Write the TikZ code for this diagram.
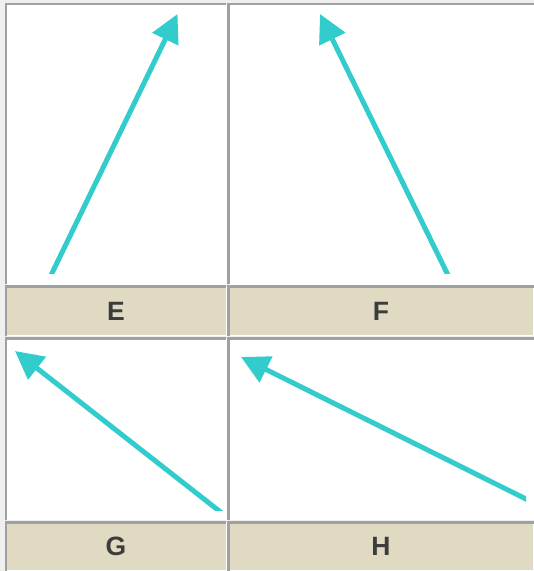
\documentclass[tikz,border=0pt]{standalone}
\usepackage{fontspec}
\usepackage{xcolor}
\usepackage{tikz}
\usetikzlibrary{arrows.meta, positioning}
\newfontfamily\etiqfont{Liberation Sans}
\definecolor{turquoise}{HTML}{33CCCC}
\definecolor{bordgris}{HTML}{A0A0A0}
\definecolor{fondgris}{HTML}{EFEFEF}
\definecolor{beige}{HTML}{E0DAC2}
\definecolor{encre}{HTML}{3C3C3C}
\tikzset{
  cellimg/.style={rectangle, fill=white, inner sep=0pt, outer sep=0pt},
  celletiq/.style={cellimg, fill=beige, text=encre,
    font=\etiqfont\bfseries\fontsize{26.5}{30}\selectfont},
  bordfonce/.style={line width=2.2pt, color=bordgris},
  bordclair/.style={line width=1pt, color=white},
  fleche/.style={-{Triangle[length=28pt, width=28pt]}, line width=5pt, color=turquoise}
}

\begin{document}
\begin{tikzpicture}[x=1pt, y=-1pt, node distance=2.5pt]
    \useasboundingbox (0,0) rectangle (534,571);
    \fill[fondgris] (0,0) rectangle (534,571);

    % ligne du haut
    \node[cellimg, anchor=north west, minimum width=220pt, minimum height=280pt] (imgE) at (6,4) {};
    \node[cellimg, right=of imgE, minimum width=305pt, minimum height=280pt] (imgF) {};
    \node[celletiq, below=of imgE, minimum width=220pt, minimum height=49pt] (etiqE) {E};
    \node[celletiq, below=of imgF, minimum width=305pt, minimum height=49pt] (etiqF) {F};

    % ligne du bas
    \node[cellimg, below=3pt of etiqE, minimum width=220pt, minimum height=181pt] (imgG) {};
    \node[cellimg, below=3pt of etiqF, minimum width=305pt, minimum height=181pt] (imgH) {};
    \node[celletiq, below=3pt of imgG, minimum width=220pt, minimum height=48pt] (etiqG) {G};
    \node[celletiq, below=3pt of imgH, minimum width=305pt, minimum height=48pt] (etiqH) {H};

    \foreach \c in {imgE, imgF, etiqE, etiqF, imgG, imgH, etiqG, etiqH} {
      \draw[bordclair] (\c.north east) -- (\c.south east) -- (\c.south west);
      \draw[bordfonce] (\c.south west) -- (\c.north west) -- (\c.north east);
    }

    \coordinate (queueE) at (47.7,282);
    \coordinate (pointeE) at (177.5,14);
    \coordinate (queueF) at (451.4,282);
    \coordinate (pointeF) at (320,14);
    \coordinate (queueG) at (225.9,516.2);
    \coordinate (pointeG) at (15,351);
    \coordinate (queueH) at (535,503.5);
    \coordinate (pointeH) at (241,357);

    \begin{scope}
      \clip (imgE.north west) rectangle (226,273);
      \draw[fleche] (queueE) -- (pointeE);
    \end{scope}
    \begin{scope}
      \clip (imgF.north west) rectangle (533,273);
      \draw[fleche] (queueF) -- (pointeF);
    \end{scope}
    \begin{scope}
      \clip (imgG.north west) rectangle (226,510);
      \draw[fleche] (queueG) -- (pointeG);
    \end{scope}
    \begin{scope}
      \clip (imgH.north west) rectangle (526,519);
      \draw[fleche] (queueH) -- (pointeH);
    \end{scope}
  \end{tikzpicture}
\end{document}
